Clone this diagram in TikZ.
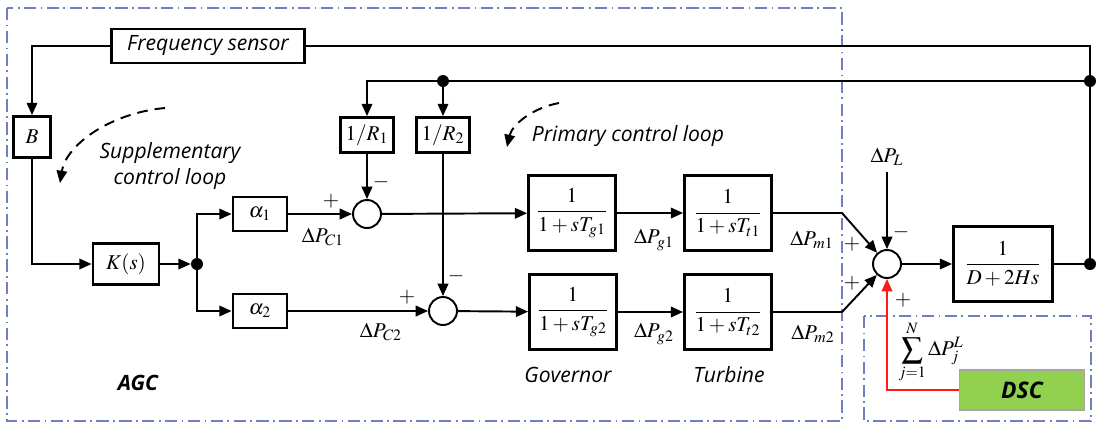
\documentclass[tikz,border=0pt]{standalone}
\usepackage{amsmath}
\usepackage{mathptmx}
\usepackage[no-math]{fontspec}
\setsansfont{Open Sans}
\usepackage{xcolor}
\usepackage{tikz}
\usetikzlibrary{arrows.meta,positioning}
\definecolor{lfFrame}{HTML}{6F7FBF}
\definecolor{lfGreen}{HTML}{92D050}
\definecolor{lfGreenLine}{HTML}{A6A6A6}
\definecolor{lfRed}{HTML}{FF1A1A}
\tikzset{
  lf diagram/.style={font=\fontsize{12}{14}\selectfont, line join=miter},
  lf box/.style={draw, line width=1.6pt, fill=white, inner sep=0pt,
    align=center, minimum width=#1},
  lf box/.default=1cm,
  lf sum/.style={draw, circle, line width=1.1pt, fill=white,
    inner sep=0pt, minimum size=0.56cm},
  lf dot/.style={circle, fill=black, inner sep=0pt, minimum size=0.24cm},
  lf line/.style={draw, line width=1.1pt},
  lf arrow/.style={lf line, -{Triangle[length=7pt,width=6pt]}},
  lf loop/.style={draw, line width=1.1pt, dash pattern=on 6pt off 4pt,
    -{Triangle[length=7pt,width=6pt]}},
  lf frame/.style={draw=lfFrame, line width=0.9pt,
    dash pattern=on 7pt off 2.5pt on 1pt off 2.5pt},
  lf text/.style={font=\fontsize{12}{15}\selectfont\sffamily\itshape},
  lf sign/.style={inner sep=0pt}
}
\begin{document}
\begin{tikzpicture}[lf diagram, x=0.02cm, y=-0.02cm]
\useasboundingbox (0,0) rectangle (1096,424);
% frames
\draw[lf frame] (7,8) rectangle (842,421);
\draw[lf frame] (864,316) rectangle (1091,421);
% blocks
\node[lf box=3.86cm, minimum height=0.68cm, lf text] (fsensor) at (208,46) {Frequency sensor};
\node[lf box=0.74cm, minimum height=0.82cm] (bbox) at (32,137) {$B$};
\node[lf box=1.32cm, minimum height=0.82cm] (kbox) at (126,264) {$K(s)$};
\node[lf box=1.08cm, minimum height=0.68cm] (a1box) at (260,214) {$\alpha_1$};
\node[lf box=1.08cm, minimum height=0.68cm] (a2box) at (260,311) {$\alpha_2$};
\node[lf box=1.06cm, minimum height=0.7cm] (r1box) at (367,135) {$1/R_1$};
\node[lf box=1.06cm, minimum height=0.7cm] (r2box) at (443,135) {$1/R_2$};
\node[lf sum] (sum1) at (367,214) {};
\node[lf sum] (sum2) at (443,311) {};
\node[lf box=1.74cm, minimum height=1.5cm] (gov1) at (572,213) {$\dfrac{1}{1+sT_{g1}}$};
\node[lf box=1.74cm, minimum height=1.5cm] (gov2) at (573,312) {$\dfrac{1}{1+sT_{g2}}$};
\node[lf box=1.74cm, minimum height=1.5cm] (tur1) at (728,213) {$\dfrac{1}{1+sT_{t1}}$};
\node[lf box=1.74cm, minimum height=1.5cm] (tur2) at (728,312) {$\dfrac{1}{1+sT_{t2}}$};
\node[lf sum] (sum3) at (887,264) {};
\node[lf box=1.98cm, minimum height=1.5cm] (plant) at (1003,264) {$\dfrac{1}{D+2Hs}$};
\node[draw=lfGreenLine, fill=lfGreen, line width=0.8pt, minimum width=2.5cm,
  minimum height=0.8cm, font=\fontsize{13}{15}\selectfont\sffamily\bfseries\itshape] (dsc) at (1022,390) {DSC};
% junctions
\node[lf dot] (jk) at (197,264) {};
\node[lf dot] (jout) at (1090,264) {};
\node[lf dot] (jfb) at (1090,81) {};
\node[lf dot] (jr2) at (443,81) {};
\coordinate (jtop) at (1090,46);
\coordinate (c1) at (842,213);
\coordinate (c2) at (842,312);
\node (dpl) at (887,157) {$\Delta P_L$};
% connectors
\draw[lf arrow] (fsensor.west) -| (bbox.north);
\draw[lf line] (fsensor.east) -- (jtop) -- (jout);
\draw[lf arrow] (bbox.south) |- (kbox.west);
\draw[lf arrow] (kbox.east) -- (jk);
\draw[lf arrow] (jk.center) |- (a1box.west);
\draw[lf arrow] (jk.center) |- (a2box.west);
\draw[lf arrow] (a1box.east) -- (sum1);
\draw[lf arrow] (a2box.east) -- (sum2);
\draw[lf arrow] (jfb.center) -| (r1box.north);
\draw[lf arrow] (jr2.center) -- (r2box.north);
\draw[lf arrow] (r1box.south) -- (sum1.north);
\draw[lf arrow] (r2box.south) -- (sum2.north);
\draw[lf arrow] (sum1) -- (gov1);
\draw[lf arrow] (sum2) -- (gov2);
\draw[lf arrow] (gov1) -- (tur1);
\draw[lf arrow] (gov2) -- (tur2);
\draw[lf arrow] (tur1.east) -- (c1) -- (sum3);
\draw[lf arrow] (tur2.east) -- (c2) -- (sum3);
\draw[lf arrow] (dpl) -- (sum3);
\draw[lf arrow] (sum3) -- (plant);
\draw[lf line] (plant.east) -- (jout);
\draw[lf arrow, draw=lfRed, line width=1pt] (dsc.west) -| (sum3.south);
% signals
\node (dpc1) at (323,237) {$\Delta P_{C1}$};
\node (dpc2) at (381,332) {$\Delta P_{C2}$};
\node (dpg1) at (654,240) {$\Delta P_{g1}$};
\node (dpg2) at (654,334) {$\Delta P_{g2}$};
\node (dpm1) at (812,240) {$\Delta P_{m1}$};
\node (dpm2) at (813,334) {$\Delta P_{m2}$};
\node (dsum) at (931,352) {$\displaystyle\sum_{j=1}^{N}\Delta P_j^L$};
\foreach \x/\y/\s in {331/201/+,381/182/-,407/297/+,456/276/-,852/244/+,852/283/+,901/232/-,903/300/+}
  \node[lf sign] at (\x,\y) {$\s$};
% loop notes
\draw[lf loop] (165,108) .. controls (110,113) and (66,145) .. (60,183);
\draw[lf loop] (559,103) .. controls (532,108) and (512,125) .. (507,147);
\node[lf text, align=center] (suppl) at (170,166) {Supplementary\\control loop};
\node[lf text] (prim) at (628,136) {Primary control loop};
\node[lf text] (gov) at (568,375) {Governor};
\node[lf text] (tur) at (729,375) {Turbine};
\node[lf text, font=\fontsize{12}{15}\selectfont\sffamily\bfseries\itshape] (agc) at (138,383) {AGC};
\end{tikzpicture}
\end{document}
